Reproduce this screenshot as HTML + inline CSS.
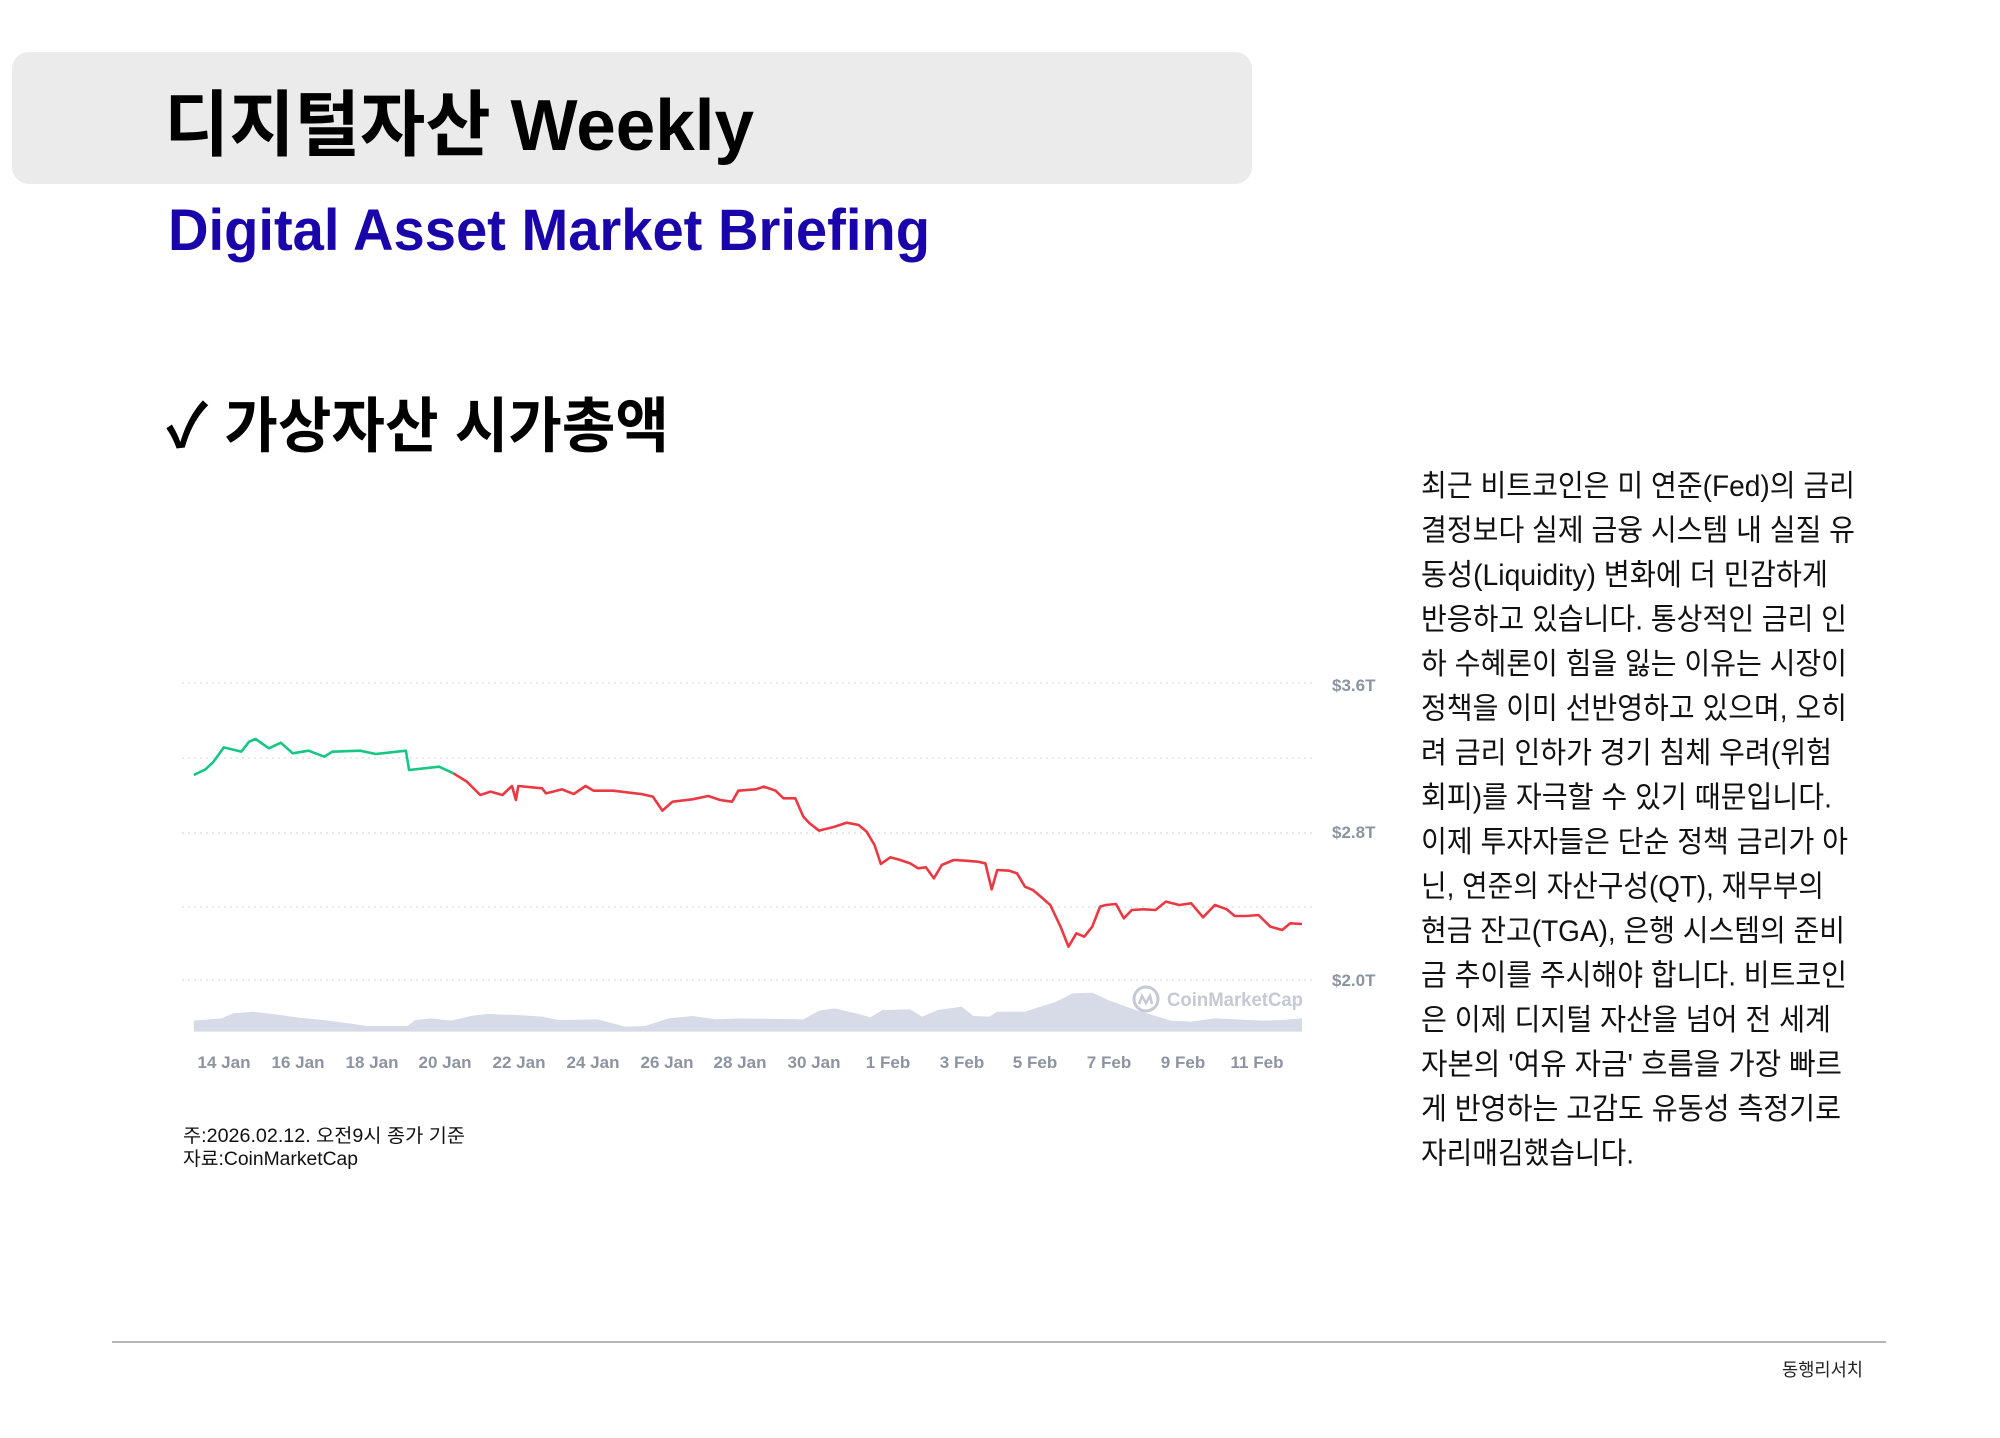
<!DOCTYPE html>
<html><head><meta charset="utf-8"><style>
html,body{margin:0;padding:0;background:#fff;width:2000px;height:1438px;overflow:hidden}
svg{display:block}
text{font-family:"Liberation Sans","Noto Sans CJK KR",sans-serif}
</style></head><body>
<svg width="2000" height="1438" viewBox="0 0 2000 1438" xmlns="http://www.w3.org/2000/svg">
<rect x="12" y="52" width="1240" height="132" rx="17" fill="#ebebeb"/>
<text x="164" y="150" font-size="72" font-weight="bold" fill="#000" textLength="590" lengthAdjust="spacingAndGlyphs">디지털자산 Weekly</text>
<text x="168" y="250" font-size="58" font-weight="bold" fill="#1a05aa" textLength="762" lengthAdjust="spacingAndGlyphs">Digital Asset Market Briefing</text>
<text x="166" y="447" font-size="60" font-weight="bold" fill="#000" textLength="503" lengthAdjust="spacingAndGlyphs">✓ 가상자산 시가총액</text>

<g stroke="#dfe2e7" stroke-width="1.5" stroke-dasharray="2,4">
<line x1="182" y1="683" x2="1312" y2="683"/>
<line x1="182" y1="758" x2="1312" y2="758"/>
<line x1="182" y1="833" x2="1312" y2="833"/>
<line x1="182" y1="907" x2="1312" y2="907"/>
<line x1="182" y1="980" x2="1312" y2="980"/>
</g>
<g font-size="17" fill="#8d93a1" font-weight="bold">
<text x="1332" y="691">$3.6T</text>
<text x="1332" y="838">$2.8T</text>
<text x="1332" y="986">$2.0T</text>
</g>

<g transform="translate(170,660) scale(0.7916,0.33333)">
<polygon fill="#d6dbe7" points="30,1115 30,1082 65,1075 80,1060 105,1055 130,1062 160,1072 200,1082 250,1098 300,1098 310,1080 330,1075 355,1082 380,1068 400,1062 440,1065 470,1070 490,1080 540,1078 575,1100 600,1098 630,1075 660,1068 690,1078 720,1075 800,1078 820,1052 840,1045 870,1062 885,1072 900,1050 935,1048 950,1070 970,1050 1000,1040 1015,1068 1035,1070 1045,1055 1080,1055 1120,1025 1140,1000 1165,998 1185,1020 1220,1050 1265,1082 1290,1085 1320,1075 1380,1082 1405,1080 1430,1075 1430,1115"/>
<polyline fill="none" stroke="#16c784" stroke-width="2.6" vector-effect="non-scaling-stroke" stroke-linejoin="round" points="30,345 45,328 55,305 68,262 90,275 100,245 108,237 125,265 140,248 155,280 175,272 195,290 205,275 240,272 260,282 298,272 302,330 340,320 358,340"/>
<polyline fill="none" stroke="#ea3943" stroke-width="2.6" vector-effect="non-scaling-stroke" stroke-linejoin="round" points="358,340 375,365 392,405 405,395 420,405 432,378 437,420 440,378 470,385 475,400 495,388 510,402 525,378 535,392 560,392 595,402 610,410 622,452 635,425 660,418 680,408 695,420 710,425 718,392 740,388 750,380 765,392 775,415 790,415 800,470 808,490 820,512 840,500 855,488 870,495 880,515 890,555 898,612 910,592 920,598 935,610 945,625 955,622 965,655 975,615 990,600 1005,602 1020,605 1030,610 1038,688 1045,630 1060,632 1070,640 1080,680 1090,690 1100,710 1112,735 1125,800 1135,860 1145,820 1155,830 1165,800 1175,740 1182,735 1195,732 1205,775 1215,750 1230,748 1245,750 1258,725 1275,735 1290,730 1305,772 1320,735 1335,748 1345,768 1360,768 1375,765 1390,800 1405,810 1415,790 1430,792"/>
</g>
<circle cx="1146" cy="999" r="12" fill="none" stroke="#c5c9d1" stroke-width="3"/>
<path d="M1139,1004 l3,-8 l4,7 l4,-7 l2,8" fill="none" stroke="#c5c9d1" stroke-width="2.5"/>
<text x="1167" y="1006" font-size="19" font-weight="bold" fill="#c5c9d1" textLength="136" lengthAdjust="spacingAndGlyphs">CoinMarketCap</text>

<g font-size="17" fill="#8d93a1" font-weight="bold" text-anchor="middle">
<text x="224" y="1068">14 Jan</text>
<text x="298" y="1068">16 Jan</text>
<text x="372" y="1068">18 Jan</text>
<text x="445" y="1068">20 Jan</text>
<text x="519" y="1068">22 Jan</text>
<text x="593" y="1068">24 Jan</text>
<text x="667" y="1068">26 Jan</text>
<text x="740" y="1068">28 Jan</text>
<text x="814" y="1068">30 Jan</text>
<text x="888" y="1068">1 Feb</text>
<text x="962" y="1068">3 Feb</text>
<text x="1035" y="1068">5 Feb</text>
<text x="1109" y="1068">7 Feb</text>
<text x="1183" y="1068">9 Feb</text>
<text x="1257" y="1068">11 Feb</text>
</g>

<text x="183" y="1142" font-size="19" fill="#111" textLength="282" lengthAdjust="spacingAndGlyphs">주:2026.02.12. 오전9시 종가 기준</text>
<text x="183" y="1165" font-size="19" fill="#111" textLength="175" lengthAdjust="spacingAndGlyphs">자료:CoinMarketCap</text>

<g font-size="30" fill="#111" transform="translate(0,-9)">
<text x="1421" y="505" textLength="434" lengthAdjust="spacingAndGlyphs">최근 비트코인은 미 연준(Fed)의 금리</text>
<text x="1421" y="549.5" textLength="434" lengthAdjust="spacingAndGlyphs">결정보다 실제 금융 시스템 내 실질 유</text>
<text x="1421" y="594" textLength="407" lengthAdjust="spacingAndGlyphs">동성(Liquidity) 변화에 더 민감하게</text>
<text x="1421" y="638.5" textLength="426" lengthAdjust="spacingAndGlyphs">반응하고 있습니다. 통상적인 금리 인</text>
<text x="1421" y="683" textLength="426" lengthAdjust="spacingAndGlyphs">하 수혜론이 힘을 잃는 이유는 시장이</text>
<text x="1421" y="727.5" textLength="426" lengthAdjust="spacingAndGlyphs">정책을 이미 선반영하고 있으며, 오히</text>
<text x="1421" y="772" textLength="411" lengthAdjust="spacingAndGlyphs">려 금리 인하가 경기 침체 우려(위험</text>
<text x="1421" y="816.5" textLength="411" lengthAdjust="spacingAndGlyphs">회피)를 자극할 수 있기 때문입니다.</text>
<text x="1421" y="861" textLength="427" lengthAdjust="spacingAndGlyphs">이제 투자자들은 단순 정책 금리가 아</text>
<text x="1421" y="905.5" textLength="403" lengthAdjust="spacingAndGlyphs">닌, 연준의 자산구성(QT), 재무부의</text>
<text x="1421" y="950" textLength="424" lengthAdjust="spacingAndGlyphs">현금 잔고(TGA), 은행 시스템의 준비</text>
<text x="1421" y="994.5" textLength="426" lengthAdjust="spacingAndGlyphs">금 추이를 주시해야 합니다. 비트코인</text>
<text x="1421" y="1039" textLength="410" lengthAdjust="spacingAndGlyphs">은 이제 디지털 자산을 넘어 전 세계</text>
<text x="1421" y="1083.5" textLength="421" lengthAdjust="spacingAndGlyphs">자본의 '여유 자금' 흐름을 가장 빠르</text>
<text x="1421" y="1128" textLength="420" lengthAdjust="spacingAndGlyphs">게 반영하는 고감도 유동성 측정기로</text>
<text x="1421" y="1172.5" textLength="213" lengthAdjust="spacingAndGlyphs">자리매김했습니다.</text>
</g>

<line x1="112" y1="1342" x2="1886" y2="1342" stroke="#b5b5b5" stroke-width="2"/>
<text x="1782" y="1376" font-size="18" fill="#222" textLength="81" lengthAdjust="spacingAndGlyphs">동행리서치</text>
</svg>
</body></html>
